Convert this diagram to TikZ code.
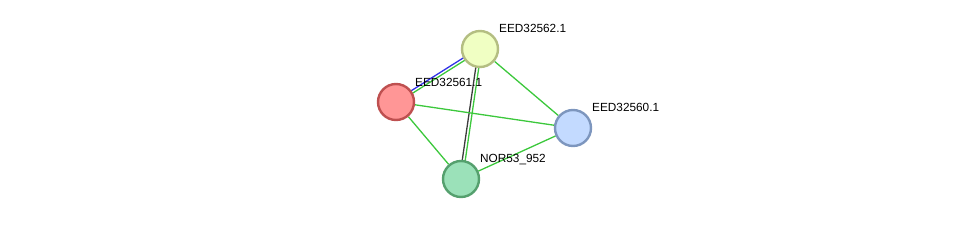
\documentclass[tikz,border=0pt]{standalone}
\usepackage{fontspec}
\setmainfont{Liberation Sans}
\usetikzlibrary{calc, backgrounds}
\definecolor{edgegreen}{RGB}{60,200,60}
\definecolor{edgeblue}{RGB}{50,50,230}
\definecolor{edgegray}{RGB}{60,60,60}
\definecolor{redfill}{RGB}{255,150,150}
\definecolor{reddraw}{RGB}{190,80,80}
\definecolor{yellowfill}{RGB}{240,255,195}
\definecolor{yellowdraw}{RGB}{180,190,130}
\definecolor{bluefill}{RGB}{195,218,255}
\definecolor{bluedraw}{RGB}{125,150,190}
\definecolor{greenfill}{RGB}{155,225,185}
\definecolor{greendraw}{RGB}{85,160,110}

\begin{document}
\begin{tikzpicture}[
    x=1pt, y=-1pt,
    protein/.style={circle, minimum size=36pt, inner sep=0pt, line width=2.4pt},
    lbl/.style={font=\fontsize{11.8}{13}\selectfont, anchor=base west, inner sep=1pt},
    link/.style={line width=1.3pt},
]
    \useasboundingbox (0,0) rectangle (975,225);

    % Proteins
    \node[protein, draw=yellowdraw, fill=yellowfill] (p562) at (480,49) {};
    \node[protein, draw=reddraw, fill=redfill] (p561) at (396,102) {};
    \node[protein, draw=bluedraw, fill=bluefill] (p560) at (573,128) {};
    \node[protein, draw=greendraw, fill=greenfill] (nor) at (461,179) {};

    % Labels
    \node[lbl] (l562) at (498,32) {EED32562.1};
    \node[lbl] (l561) at (414,86) {EED32561.1};
    \node[lbl] (l560) at (591,111) {EED32560.1};
    \node[lbl] (lnor) at (479,162) {NOR53\_952};

    % Links
    \begin{scope}[on background layer]
        \draw[link, edgegreen] ($(p562.center)!1.4pt!90:(p561.center)$) -- ($(p561.center)!1.4pt!-90:(p562.center)$);
        \draw[link, edgeblue] ($(p562.center)!1.4pt!-90:(p561.center)$) -- ($(p561.center)!1.4pt!90:(p562.center)$);
        \draw[link, edgegreen] ($(p562.center)!1.5pt!90:(nor.center)$) -- ($(nor.center)!1.5pt!-90:(p562.center)$);
        \draw[link, edgegray] ($(p562.center)!1.5pt!-90:(nor.center)$) -- ($(nor.center)!1.5pt!90:(p562.center)$);
        \draw[link, edgegreen] (p562) -- (p560);
        \draw[link, edgegreen] (p561) -- (p560);
        \draw[link, edgegreen] (p561) -- (nor);
        \draw[link, edgegreen] (nor) -- (p560);
    \end{scope}
\end{tikzpicture}
\end{document}
